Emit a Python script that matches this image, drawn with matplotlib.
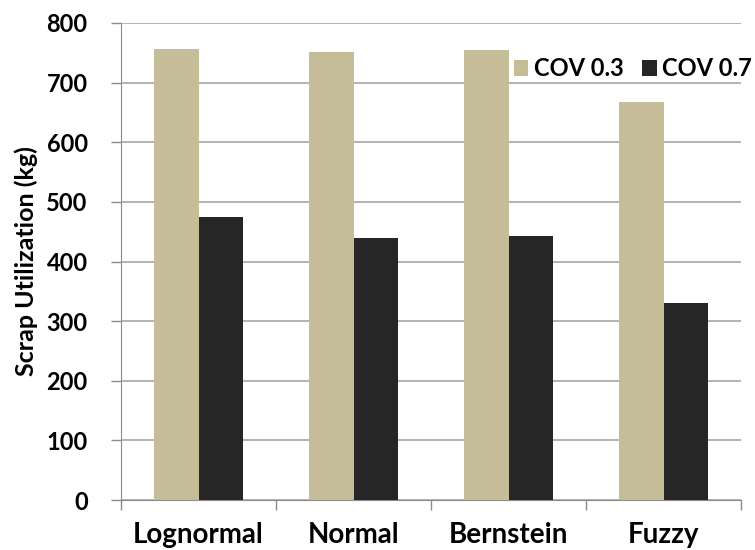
import matplotlib.pyplot as plt
import numpy as np

plt.rcParams['font.family'] = ['Lato', 'DejaVu Sans']

# Données
categories = ["Lognormal", "Normal", "Bernstein", "Fuzzy"]
cov_03 = [756, 752, 755, 668]
cov_07 = [475, 440, 443, 331]
yticks = [0, 100, 200, 300, 400, 500, 600, 700, 800]

x = np.arange(len(categories))
w = 0.29

fig = plt.figure(figsize=(7.55, 5.5), dpi=100)
ax = fig.add_axes([121/755, 50/550, 620/755, 477/550])

ax.bar(x - w/2, cov_03, w, color="#C4BD97", label="COV 0.3", zorder=3)
ax.bar(x + w/2, cov_07, w, color="#262626", label="COV 0.7", zorder=3)

ax.set_xlim(-0.5, len(categories) - 0.5)
ax.set_ylim(0, 800)
ax.set_yticks(yticks)
ax.set_yticklabels([str(v) for v in yticks], fontsize=17, fontweight="bold")
ax.set_ylabel("Scrap Utilization (kg)", fontsize=18, fontweight="bold", labelpad=6)

# Étiquettes centrées, traits entre les catégories
ax.set_xticks(x)
ax.set_xticklabels(categories, fontsize=20, fontweight="bold")
ax.tick_params(axis="x", which="major", length=0, pad=16)
ax.set_xticks(np.arange(-0.5, len(categories)), minor=True)
ax.tick_params(axis="x", which="minor", length=7, color="#8C8C8C", width=1)
ax.tick_params(axis="y", length=7, color="#8C8C8C", width=1, pad=17)

ax.grid(axis="y", color="#A6A6A6", linewidth=1.2, zorder=0)
for side in ["top", "right"]:
    ax.spines[side].set_visible(False)
for side in ["left", "bottom"]:
    ax.spines[side].set_color("#8C8C8C")

ax.legend(loc="center right", bbox_to_anchor=(1.018, 0.904), ncol=2, frameon=False,
          prop={"weight": "bold", "size": 17}, borderpad=0, borderaxespad=0,
          handlelength=0.6, handleheight=0.7, handletextpad=0.25, columnspacing=0.8)

plt.savefig("out.png", dpi=100)
